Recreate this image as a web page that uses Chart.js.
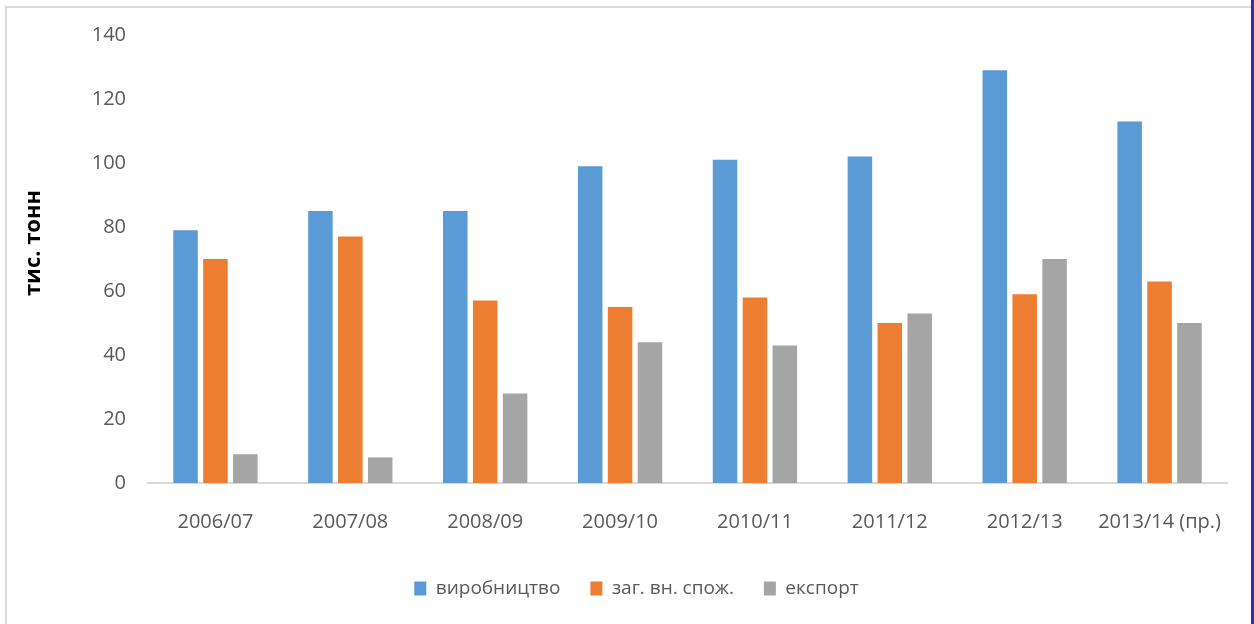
<!DOCTYPE html>
<html>
<head>
<meta charset="utf-8">
<script src="https://cdn.jsdelivr.net/npm/chart.js@4"></script>
<style>
  html, body { margin: 0; padding: 0; background: #ffffff; }
  #wrap { position: relative; width: 1254px; height: 624px; overflow: hidden; background: #fff; }
  #frame { position: absolute; left: 5px; top: 6px; width: 1260px; height: 700px;
           border-left: 2px solid #d9d9d9; border-top: 2px solid #d9d9d9; }
  #stripe { position: absolute; left: 1251px; top: 0; width: 3px; height: 624px; background: #3333a0; }
  #box { position: absolute; left: 0; top: 0; width: 1250px; height: 624px; }
</style>
</head>
<body>
<div id="wrap">
  <div id="frame"></div>
  <div id="box"><canvas id="c"></canvas></div>
  <div id="stripe"></div>
</div>
<script>
const categories = ["2006/07", "2007/08", "2008/09", "2009/10", "2010/11", "2011/12", "2012/13", "2013/14 (пр.)"];
const seriesNames = ["виробництво", "заг. вн. спож.", "експорт"];
const production = [79, 85, 85, 99, 101, 102, 129, 113];
const consumption = [70, 77, 57, 55, 58, 50, 59, 63];
const exportVals = [9, 8, 28, 44, 43, 53, 70, 50];
const colors = ["#5B9BD5", "#ED7D31", "#A5A5A5"];
const yTitle = "тис. тонн";

const FONT = "'Open Sans', 'DejaVu Sans', sans-serif";

const yTitlePlugin = {
  id: 'yTitle',
  afterDraw(chart) {
    const ctx = chart.ctx;
    ctx.save();
    ctx.translate(34, 243);
    ctx.rotate(-Math.PI / 2);
    ctx.font = "bold 22px " + FONT;
    ctx.fillStyle = "#000000";
    ctx.textAlign = "center";
    ctx.textBaseline = "middle";
    ctx.fillText(yTitle, 0, 0);
    ctx.restore();
  }
};

const series = [production, consumption, exportVals];
new Chart(document.getElementById('c'), {
  type: 'bar',
  data: {
    labels: categories,
    datasets: series.map((d, i) => ({
      label: seriesNames[i],
      data: d,
      backgroundColor: colors[i],
      borderWidth: 0,
      categoryPercentage: 0.665,
      barPercentage: 0.82
    }))
  },
  options: {
    responsive: true,
    maintainAspectRatio: false,
    animation: false,
    devicePixelRatio: 1,
    layout: { padding: { left: 46, right: 23, top: 35, bottom: 16 } },
    plugins: {
      tooltip: { enabled: false },
      legend: {
        position: 'bottom',
        labels: {
          boxWidth: 12,
          boxHeight: 14,
          padding: 30,
          color: '#595959',
          font: { family: FONT, size: 19 }
        }
      }
    },
    scales: {
      x: {
        grid: { display: false, drawTicks: false },
        border: { display: true, color: '#d9d9d9', width: 2 },
        ticks: { color: '#595959', font: { family: FONT, size: 20 }, padding: 27, maxRotation: 0, autoSkip: false },
        afterFit(scale) { scale.height = 66; }
      },
      y: {
        min: 0, max: 140,
        grid: { display: false, drawTicks: false },
        border: { display: false },
        ticks: { stepSize: 20, color: '#595959', font: { family: FONT, size: 20 }, padding: 22 },
        afterFit(scale) { scale.width = 102; }
      }
    }
  },
  plugins: [yTitlePlugin]
});
</script>
</body>
</html>
